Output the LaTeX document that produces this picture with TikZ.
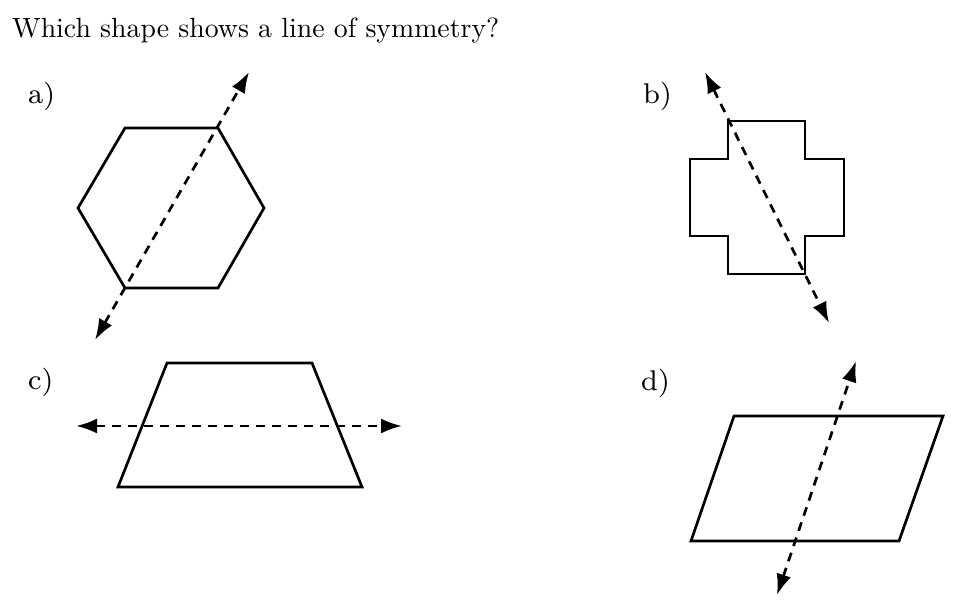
\documentclass[tikz,border=0pt]{standalone}
\usepackage{fontspec}
\newfontfamily\lmeight{lmroman8-regular}[Extension=.otf]
\newfontfamily\lmten{lmroman10-regular}[Extension=.otf]
\usetikzlibrary{arrows.meta}
\begin{document}
\begin{tikzpicture}[x=1pt,y=-1pt,
  shapeline/.style={line width=2.7pt,line join=miter},
  symline/.style={line width=2.7pt,dash pattern=on 9pt off 7pt,{Latex[length=21pt,width=15pt]}-{Latex[length=21pt,width=15pt]}},
  lbl/.style={anchor=base west,inner sep=0pt,font=\lmeight\fontsize{28.5}{32}\selectfont},
  ttl/.style={anchor=base west,inner sep=0pt,font=\lmten\fontsize{27.8}{32}\selectfont}]
\useasboundingbox (0,0) rectangle (966,600);
\node[ttl] (title) at (12,37) {Which shape shows a line of symmetry?};
\node[lbl] (la) at (28,103) {a)};
\node[lbl] (lb) at (643,103) {b)};
\node[lbl] (lc) at (28,389) {c)};
\node[lbl] (ld) at (641,390) {d)};
% a) hexagon
\coordinate (h1) at (125,128);
\coordinate (h2) at (218,128);
\coordinate (h3) at (264,208);
\coordinate (h4) at (218,288);
\coordinate (h5) at (125,288);
\coordinate (h6) at (78,208);
\draw[shapeline] (h1)--(h2)--(h3)--(h4)--(h5)--(h6)--cycle;
\coordinate (aS) at (95,340);
\coordinate (aE) at (249,72);
\draw[symline] (aS) -- (aE);
% b) cross
\draw[shapeline] (728,121) -- (805,121) -- (805,159) -- (844,159) -- (844,236) -- (805,236) -- (805,274) -- (728,274) -- (728,236) -- (690,236) -- (690,159) -- (728,159) -- cycle;
\coordinate (bS) at (705,72);
\coordinate (bE) at (829,323);
\draw[symline] (bS) -- (bE);
% c) trapezoid
\draw[shapeline] (167,363) -- (312,363) -- (362,487) -- (118,487) -- cycle;
\coordinate (cS) at (76,426);
\coordinate (cE) at (402,426);
\draw[symline] (cS) -- (cE);
% d) parallelogram
\draw[shapeline] (734,416) -- (943,416) -- (899,541) -- (691,541) -- cycle;
\coordinate (dS) at (777,595);
\coordinate (dE) at (856,361);
\draw[symline] (dS) -- (dE);
\end{tikzpicture}
\end{document}
